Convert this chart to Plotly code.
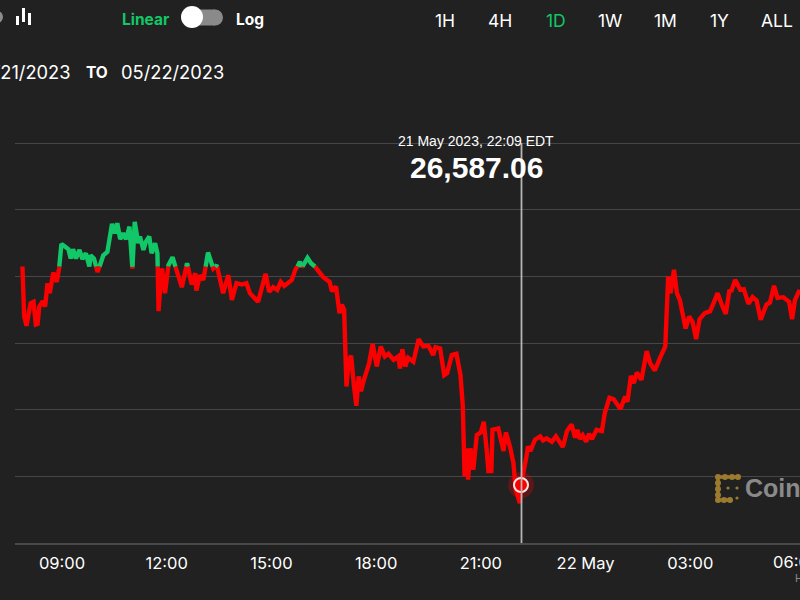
import numpy as np
import pandas as pd
import plotly.graph_objects as go

# minutes after 00:00 on 21 May 2023
minutes = [472,475,479,484,486,491,495,498,501,507,511,515,519,525,531,535,539,545,551,555,559,564,570,575,581,587,589,595,601,605,611,618,622,626,631,635,640,645,650,656,661,665,671,674,680,684,690,694,700,704,706,710,712,717,723,730,736,746,755,763,769,771,777,783,791,800,806,817,826,832,840,849,857,863,877,890,896,
903,910,916,922,929,935,941,943,949,953,962,968,974,981,989,1000,1004,1011,1017,1021,1025,1027,1029,1033,1037,1042,1046,1050,1054,1058,1064,1068,1074,1081,1088,1095,1101,1110,1118,1121,1125,1130,1135,1144,1153,1161,1170,1178,1182,1190,1197,1202,1210,1218,1225,1229,1232,1236,1238,1242,1247,1253,1260,1265,1270,1273,1278,1280,1290,1299,1303,1310,1316,1320,1327,1329,
1338,1341,1345,1353,1362,1367,1373,1382,1389,1401,1408,1416,1422,1426,1430,1435,1441,1446,1451,1459,1468,1473,1481,1488,1500,1508,1512,1518,1523,1528,1536,1545,1551,1559,1568,1577,1582,1586,1592,1597,1602,1612,1618,1624,1630,1636,1645,1654,1660,1667,1674,1681,1687,1691,1697,1706,1712,1720,1727,1734,1741,1751,1757,1764,1770,1780,1790,1795,1800,1808]
prices = [26915,26840,26826,26852,26860,26862,26828,26829,26855,26863,26855,26890,26875,26906,26892,26912,26949,26945,26941,26927,26941,26927,26940,26926,26935,26915,26932,26927,26907,26916,26932,26937,26955,26979,26965,26980,26956,26965,26956,26975,26912,26982,26950,26960,26940,26952,26960,26935,26950,26935,26848,26900,26912,26875,26917,26929,26912,26884,26920,26888,26905,26879,26902,26895,26936,26912,26917,26875,26902,26865,26890,26888,26890,26875,26862,26904,26877,
26884,26880,26892,26886,26890,26895,26910,26912,26922,26914,26928,26920,26916,26908,26899,26892,26878,26885,26845,26858,26850,26790,26735,26775,26781,26735,26706,26750,26728,26742,26760,26770,26799,26765,26795,26780,26784,26775,26780,26762,26791,26765,26778,26772,26806,26795,26796,26782,26794,26792,26752,26755,26782,26784,26752,26705,26600,26642,26595,26642,26610,26662,26666,26682,26640,26608,26608,26670,26672,26638,26666,26645,26620,26580,26560,26587.06,
26628,26645,26638,26655,26660,26654,26657,26652,26660,26644,26668,26678,26658,26670,26656,26662,26652,26664,26656,26670,26668,26695,26718,26716,26701,26720,26712,26751,26740,26756,26745,26788,26770,26759,26778,26795,26900,26875,26910,26875,26865,26822,26840,26832,26806,26836,26845,26848,26860,26875,26858,26844,26878,26879,26895,26880,26881,26859,26869,26864,26835,26858,26861,26886,26868,26869,26862,26836,26865,26880]
open_price = 26915
hover_minute = 1329
hover_price = 26587.06
range_buttons = ["1H", "4H", "1D", "1W", "1M", "1Y", "ALL"]
button_x = [445, 500, 556, 610, 665, 719, 777]
tick_minutes = [540, 720, 900, 1080, 1260, 1440, 1620]
tick_labels = ["09:00", "12:00", "15:00", "18:00", "21:00", "22 May", "03:00"]

BG = "#212121"
GREEN = "#12c767"
RED = "#fb0000"
FONT = "Inter, Liberation Sans, sans-serif"
L, R, T, B = 15, 800, 100, 543

t0 = pd.Timestamp("2023-05-21")
to_time = lambda m: t0 + pd.to_timedelta(m, unit="m")


def split_at_open(ms, ps, level):
    """Break the line at the open price, so each side can take its own colour."""
    out = {"g": ([], []), "r": ([], [])}

    def add(key, x0, y0, x1, y1):
        xs, ys = out[key]
        if xs and xs[-1] is not None and xs[-1] != x0:
            xs.append(None); ys.append(None)
        if not xs or xs[-1] != x0:
            xs.append(x0); ys.append(y0)
        xs.append(x1); ys.append(y1)

    for i in range(1, len(ms)):
        x0, y0, x1, y1 = ms[i - 1], ps[i - 1], ms[i], ps[i]
        a, b = y0 - level, y1 - level
        if a >= 0 and b >= 0:
            add("g", x0, y0, x1, y1)
        elif a <= 0 and b <= 0:
            add("r", x0, y0, x1, y1)
        else:
            mc = x0 + (x1 - x0) * a / (a - b)
            add("g" if a > 0 else "r", x0, y0, mc, level)
            add("r" if a > 0 else "g", mc, level, x1, y1)
    return out["g"][0], out["g"][1], out["r"][0], out["r"][1]


gx, gy, rx, ry = split_at_open(minutes, prices, open_price)
conv = lambda xs: [None if m is None else to_time(m) for m in xs]

fig = go.Figure()
for xs, ys, col in ((rx, ry, RED), (gx, gy, GREEN)):
    fig.add_trace(go.Scatter(x=conv(xs), y=ys, mode="lines", showlegend=False,
                             line=dict(color=col, width=4.4, shape="linear"),
                             hoverinfo="skip", connectgaps=False))
fig.add_trace(go.Scatter(x=[to_time(hover_minute)], y=[hover_price], mode="markers", showlegend=False,
                         marker=dict(size=26, color="rgba(251,0,0,0.28)"), hoverinfo="skip"))
fig.add_trace(go.Scatter(x=[to_time(hover_minute)], y=[hover_price], mode="markers", showlegend=False,
                         marker=dict(size=14, color=RED, line=dict(color="#ffe4e4", width=2)), hoverinfo="skip"))

px = lambda x: (x - L) / (R - L)
py = lambda y: (B - y) / (B - T)


def label(x, y, text, size=16, color="#ffffff", anchor="center", bold=False, font=FONT):
    fig.add_annotation(x=px(x), y=py(y), xref="paper", yref="paper", text=f"<b>{text}</b>" if bold else text,
                       showarrow=False, xanchor=anchor, yanchor="middle", align="left",
                       font=dict(size=size, color=color, family=font))


for x, t in zip(button_x, range_buttons):
    label(x, 20, t, size=17.5, color=GREEN if t == "1D" else "#ffffff")
label(146, 19, "Linear", size=15.5, color=GREEN, bold=True)
label(250, 19, "Log", size=15.5, bold=True)
label(73, 72, "05/21/2023", size=18.3, anchor="right")
label(97, 72, "TO", size=15.5, bold=True)
label(172, 72, "05/22/2023", size=18.3)
label(476, 141, "21 May 2023, 22:09 EDT", size=14, font="Liberation Sans, sans-serif")
label(476, 167, "26,587.06", size=30, bold=True, font="Liberation Sans, sans-serif")
label(743, 488, "Coinbase", size=25, color="#8a8a8a", anchor="left", bold=True, font="Liberation Sans, sans-serif")
label(793, 578, "HKT", size=11, color="#8a8a8a", anchor="left", font="Liberation Sans, sans-serif")
label(796, 562, "06:00", size=16.5)

shapes = []


def box(x0, y0, x1, y1, color, kind="rect", layer="above"):
    shapes.append(dict(type=kind, xref="paper", yref="paper", x0=px(x0), x1=px(x1), y0=py(y0), y1=py(y1),
                       fillcolor=color, line=dict(width=0), layer=layer))


def seg(x0, y0, x1, y1, color, w):
    shapes.append(dict(type="line", xref="paper", yref="paper", x0=px(x0), x1=px(x1), y0=py(y0), y1=py(y1),
                       line=dict(color=color, width=w), layer="above"))


# crosshair
seg(521.5, 143, 521.5, 543, "#b5b5b5", 1.8)
# bar-chart icon
box(16, 16, 19, 25, "#ffffff"); box(22, 8, 25, 22, "#ffffff"); box(28, 13, 31, 25, "#ffffff")
box(-8, 11, 3, 23, "#8c8c8c", "circle")
# Linear / Log switch
box(190, 9.5, 215, 25.5, "#8a8a8a")
box(207, 9.5, 223, 25.5, "#8a8a8a", "circle")
box(181, 6, 203, 28, "#ffffff", "circle")
# watermark logo: a beaded bracket and three loose dots
GOLD = "#9c7b2e"
seg(718, 477, 738, 477, GOLD, 3.5); seg(718, 477, 718, 500, GOLD, 3.5); seg(718, 500, 730, 500, GOLD, 3.5)
for bx, by in [(718, 477), (725, 477), (732, 477), (738, 477), (718, 483), (718, 489), (718, 495),
               (718, 500), (724, 500), (730, 500)]:
    box(bx - 3, by - 3, bx + 3, by + 3, GOLD, "circle")
for bx, by in [(728, 488), (737, 488), (737, 498)]:
    box(bx - 1.6, by - 1.6, bx + 1.6, by + 1.6, GOLD, "circle")

fig.update_layout(
    width=800, height=600, autosize=False, paper_bgcolor=BG, plot_bgcolor=BG,
    margin=dict(l=L, r=800 - R, t=T, b=600 - B), shapes=shapes, showlegend=False,
    xaxis=dict(range=[to_time(459.2), to_time(1808.6)], showgrid=False, zeroline=False, showline=True,
               linecolor="#4a4a4a", linewidth=2, ticks="", tickmode="array",
               tickvals=[to_time(m) for m in tick_minutes], ticktext=tick_labels,
               tickfont=dict(size=16.5, color="#ffffff", family=FONT), ticklabelstandoff=4),
    yaxis=dict(range=[26500, 27165], dtick=100, showgrid=True, gridcolor="#464646", gridwidth=1.4,
               zeroline=False, showticklabels=False, ticks=""),
)
fig.write_html("out.html", config=dict(displayModeBar=False),
               post_script="document.body.style.margin='0';document.body.style.background='#212121';document.documentElement.style.overflow='hidden';")
